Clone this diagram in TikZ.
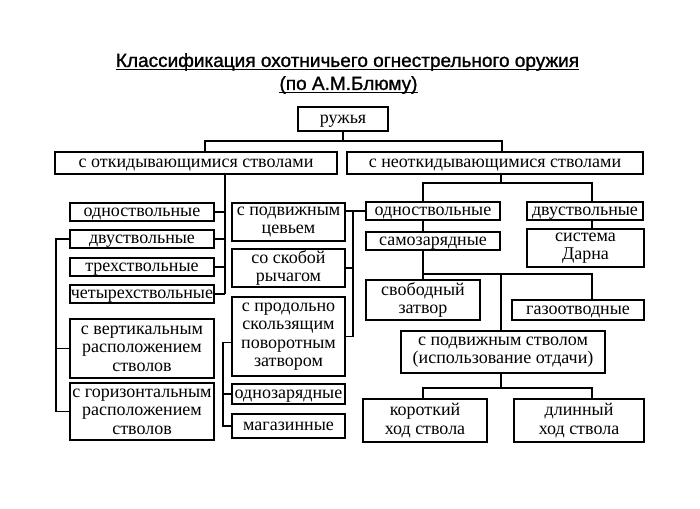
\documentclass[tikz,border=0pt]{standalone}
\usepackage{fontspec}
\setmainfont{Liberation Serif}
\newfontfamily\titlefont{Liberation Sans}[FakeBold=1.2]
\usepackage{tikz}
\usetikzlibrary{positioning}

\begin{document}
\begin{tikzpicture}[x=1pt, y=-1pt,
    caixa/.style={draw, line width=1.8pt, inner sep=0pt, align=center,
      font=\fontsize{18}{18.5}\selectfont},
    linha/.style={caixa, text height=12pt, text depth=4pt},
    liga/.style={line width=1.6pt},
    titulo/.style={inner sep=0pt, font=\titlefont\fontsize{19}{20}\selectfont}]
    \useasboundingbox (0,0) rectangle (700,508);

    % Titulo
    \node[titulo] (title1) at (347.5,62) {Классификация охотничьего огнестрельного оружия};
    \node[titulo] (title2) at (348.5,85) {(по А.М.Блюму)};
    \draw[line width=1.4pt] ([yshift=-2.5pt]title1.base west) -- ([yshift=-2.5pt]title1.base east);
    \draw[line width=1.4pt] ([yshift=-2.5pt]title2.base west) -- ([yshift=-2.5pt]title2.base east);

    % Primeiro nivel
    \node[linha, minimum width=90pt, minimum height=24pt] (ruzh) at (343,119) {ружья};
    \node[linha, minimum width=282pt, minimum height=22pt] (otkid) at (196,163) {с откидывающимися стволами};
    \node[linha, minimum width=296pt, minimum height=22pt] (neotkid) at (495,163) {с неоткидывающимися стволами};

    % Coluna da esquerda
    \node[linha, minimum width=144pt, minimum height=18pt] (odnoL) at (142,212) {одноствольные};
    \node[linha, minimum width=144pt, minimum height=18pt] (dvuL) at (142,239) {двуствольные};
    \node[linha, minimum width=144pt, minimum height=18pt] (trekh) at (142,267) {трехствольные};
    \node[linha, minimum width=144pt, minimum height=18pt] (chetyr) at (142,294) {четырехствольные};
    \node[caixa, minimum width=144pt, minimum height=59pt] (vert) at (142,348.5) {с вертикальным\\расположением\\стволов};
    \node[caixa, minimum width=144pt, minimum height=57pt] (horiz) at (142,411.5) {с горизонтальным\\расположением\\стволов};

    % Coluna do meio
    \node[caixa, minimum width=113pt, minimum height=38pt] (tsevie) at (288.5,222) {с подвижным\\цевьем};
    \node[caixa, minimum width=113pt, minimum height=38pt] (skoba) at (288.5,268) {со скобой\\рычагом};
    \node[caixa, minimum width=113pt, minimum height=79pt] (prodol) at (288.5,336.5) {с продольно\\скользящим\\поворотным\\затвором};
    \node[linha, minimum width=113pt, minimum height=20pt] (odnozar) at (288.5,394) {однозарядные};
    \node[linha, minimum width=113pt, minimum height=24pt] (magaz) at (288.5,426) {магазинные};

    % Lado direito
    \node[linha, minimum width=134pt, minimum height=18pt] (odnoR) at (433,211) {одноствольные};
    \node[linha, minimum width=134pt, minimum height=18pt] (samozar) at (433,241) {самозарядные};
    \node[linha, minimum width=116pt, minimum height=18pt] (dvuR) at (585,211) {двуствольные};
    \node[caixa, minimum width=117pt, minimum height=38pt] (darna) at (585.5,248) {система\\Дарна};
    \node[caixa, minimum width=114pt, minimum height=40pt] (svobod) at (423,300) {свободный\\затвор};
    \node[linha, minimum width=132pt, minimum height=20pt] (gaz) at (578,310) {газоотводные};
    \node[caixa, minimum width=204pt, minimum height=42pt] (podvizh) at (503,352) {с подвижным стволом\\(использование отдачи)};
    \node[caixa, minimum width=124pt, minimum height=43pt] (korot) at (425,420.5) {короткий\\ход ствола};
    \node[caixa, minimum width=130pt, minimum height=43pt] (dlin) at (579,420.5) {длинный\\ход ствола};

    % Linhas do topo
    \coordinate (busL) at (205,141);
    \coordinate (busR) at (502,141);
    \draw[liga] (ruzh.south) -- (ruzh.south |- busL);
    \draw[liga] (busL |- otkid.north) -- (busL) -- (busR) -- (busR |- neotkid.north);

    % Ligacoes da esquerda
    \coordinate (spL) at (225,0);
    \coordinate (brL) at (56,0);
    \draw[liga] (spL |- otkid.south) -- (spL |- chetyr.east);
    \foreach \n in {odnoL,dvuL,trekh,chetyr}
        \draw[liga] (\n.east) -- (spL |- \n.east);
    \draw[liga] (dvuL.west) -| (brL |- horiz.west) -- (horiz.west);
    \draw[liga] (vert.west) -- (brL |- vert.west);

    % Ligacoes do meio
    \coordinate (brM) at (353,0);
    \coordinate (brP) at (223,0);
    \draw[liga] (odnoR.west) -- (tsevie.east |- odnoR.west);
    \draw[liga] (brM |- odnoR.west) |- (prodol.east);
    \draw[liga] (skoba.east) -- (brM |- skoba.east);
    \draw[liga] ([yshift=-6pt]prodol.west) -| (brP |- magaz.west) -- (magaz.west);
    \draw[liga] (odnozar.west) -- (brP |- odnozar.west);

    % Ligacoes da direita
    \coordinate (xA) at (423,0);
    \coordinate (xC) at (501,0);
    \coordinate (xB) at (592,0);
    \coordinate (busN) at (0,183);
    \coordinate (busS) at (0,274);
    \coordinate (busK) at (0,388);
    \draw[liga] (xC |- neotkid.south) -- (xC |- busN);
    \draw[liga] (xA |- odnoR.north) |- (xB |- busN) -- (xB |- dvuR.north);
    \draw[liga] (xA |- odnoR.south) -- (xA |- samozar.north);
    \draw[liga] (xB |- dvuR.south) -- (xB |- darna.north);
    \draw[liga] (xA |- samozar.south) -- (xA |- svobod.north);
    \draw[liga] (xA |- busS) -- (xB |- busS) -- (xB |- gaz.north);
    \draw[liga] (xC |- busS) -- (xC |- podvizh.north);
    \draw[liga] (xC |- podvizh.south) -- (xC |- busK);
    \draw[liga] (xA |- korot.north) |- (xB |- busK) -- (xB |- dlin.north);
\end{tikzpicture}
\end{document}
